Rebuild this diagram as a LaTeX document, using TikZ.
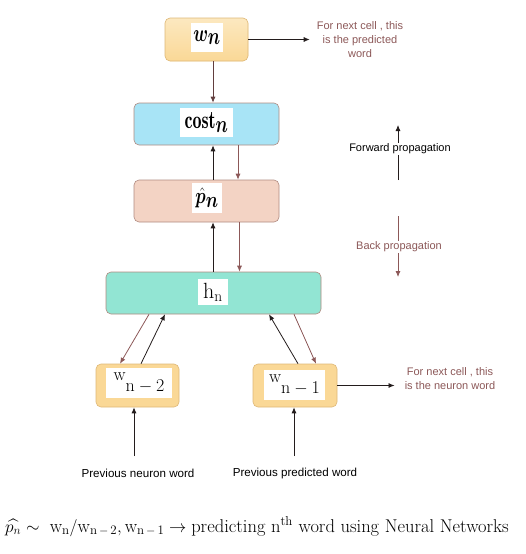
\documentclass[tikz,border=0pt]{standalone}
\usepackage{amsmath}
\usepackage{amssymb,bm}
\usepackage{graphicx}
\usepackage{fontspec}
\newfontfamily\notefont{Liberation Sans}
\usepackage{tikz}
\usetikzlibrary{arrows.meta}
\definecolor{wordfill}{RGB}{250,216,150}
\definecolor{wordtop}{RGB}{252,232,192}
\definecolor{costfill}{RGB}{168,228,246}
\definecolor{probfill}{RGB}{243,211,196}
\definecolor{hidfill}{RGB}{146,229,211}
\definecolor{boxline}{RGB}{176,138,128}
\definecolor{wordline}{RGB}{222,184,120}
\definecolor{backcol}{RGB}{140,88,88}
\definecolor{fwdcol}{RGB}{35,28,28}
\newcommand{\notesize}{\fontsize{11}{14}\selectfont}
\newcommand{\cellsize}{\fontsize{18}{20}\selectfont}
\newcommand{\wordsize}{\fontsize{18}{20}\selectfont}
\newcommand{\tall}[1]{\scalebox{1}[1.4]{#1}}
\tikzset{
  cell/.style={draw=boxline, line width=0.6pt, rounded corners=5pt, inner sep=0pt},
  wordcell/.style={cell, draw=wordline, fill=wordfill, minimum width=83pt, minimum height=43pt},
  tag/.style={fill=white, inner sep=0pt},
  note/.style={font=\notefont\notesize, align=center, inner sep=2pt},
  fwd/.style={-{Latex[length=6pt,width=5pt]}, line width=0.8pt, fwdcol},
  bwd/.style={-{Latex[length=6pt,width=5pt]}, line width=0.8pt, backcol},
}
\begin{document}
\begin{tikzpicture}[x=1pt,y=-1pt]
	\useasboundingbox (0,0) rectangle (525,554);
	% Cells:
	\node[wordcell, top color=wordtop, bottom color=wordfill] (wn) at (206.5,39.5) {};
	\node[cell, fill=costfill, minimum width=145pt, minimum height=42pt] (cost) at (206.5,124) {};
	\node[cell, fill=probfill, minimum width=145pt, minimum height=42pt] (phat) at (206.5,201) {};
	\node[cell, fill=hidfill, minimum width=215pt, minimum height=42pt] (hn) at (213.5,293) {};
	\node[wordcell] (wtwo) at (137.5,385.5) {};
	\node[wordcell, minimum width=84pt] (wone) at (295,385.5) {};
	% Labels:
	\node[tag, minimum width=32pt, minimum height=29pt] (wnlab) at (207,37.5) {\cellsize\tall{$\bm{w}_{\textstyle\bm n}$}};
	\node[tag, minimum width=53pt, minimum height=29pt] (costlab) at (206.5,122.5) {\cellsize\tall{$\mathbf{cost}_{\textstyle\bm n}$}};
	\node[tag, minimum width=30pt, minimum height=30pt] (phatlab) at (207,198) {\cellsize\scalebox{1}[1.3]{$\hat{\bm p}_{\textstyle\bm n}$}};
	\node[tag, minimum width=30pt, minimum height=26pt] (hnlab) at (213,292) {\fontsize{22}{24}\selectfont$\mathrm{h_n}$};
	\node[tag, minimum width=66pt, minimum height=30pt] (wtwolab) at (139,383) {\wordsize\raisebox{5pt}{$\mathrm{w}$}\raisebox{-6pt}{$\mathrm{n-2}$}};
	\node[tag, minimum width=61pt, minimum height=30pt] (wonelab) at (294.5,385) {\wordsize\raisebox{5pt}{$\mathrm{w}$}\raisebox{-6pt}{$\mathrm{n-1}$}};
	% Notes:
	\node[note, text=backcol] (nextword) at (360,40) {For next cell , this\\is the predicted\\word};
	\node[note, text=backcol] (nextneuron) at (450,379) {For next cell , this\\is the neuron word};
	\node[note, font=\notefont\fontsize{11.6}{14}\selectfont] (prevn) at (138,473) {Previous neuron word};
	\node[note, font=\notefont\fontsize{11.6}{14}\selectfont] (prevp) at (295,473) {Previous predicted word};
	% Arrows between cells:
	\draw[bwd, backcol!70!black] ([xshift=6.5pt]wn.south) -- ([xshift=6.5pt]cost.north);
	\draw[fwd] ([xshift=6.5pt]phat.north) -- ([xshift=6.5pt]cost.south);
	\draw[bwd] ([xshift=31.5pt]cost.south) -- ([xshift=31.5pt]phat.north);
	\draw[fwd] ([xshift=-0.5pt]hn.north) -- ([xshift=6.5pt]phat.south);
	\draw[bwd] ([xshift=33pt]phat.south) -- ([xshift=26pt]hn.north);
	\draw[bwd] ([xshift=-64.5pt]hn.south) -- ([xshift=-17.5pt]wtwo.north);
	\draw[fwd] ([xshift=3.5pt]wtwo.north) -- ([xshift=-48.5pt]hn.south);
	\draw[fwd] ([xshift=3pt]wone.north) -- ([xshift=55.5pt]hn.south);
	\draw[bwd] ([xshift=80.5pt]hn.south) -- ([xshift=21pt]wone.north);
	% Arrows out to the notes:
	\draw[fwd, shorten >=5pt] (wn.east) -- (wn.east -| nextword.west);
	\draw[fwd, shorten >=8pt] (wone.east) -- (wone.east -| nextneuron.west);
	% Inputs:
	\coordinate (inn) at (134,456);
	\coordinate (inp) at (294,456);
	\draw[fwd] (inn) -- ([xshift=-3.5pt]wtwo.south);
	\draw[fwd] (inp) -- ([xshift=-1pt]wone.south);
	% Propagation:
	\coordinate (fwdlo) at (398,180);
	\coordinate (fwdhi) at (398,125);
	\draw[fwd] (fwdlo) -- (fwdhi);
	\node[note, fill=white, inner sep=1pt] (fwdlab) at (400,149) {Forward propagation};
	\coordinate (bwdhi) at (398,216);
	\coordinate (bwdlo) at (398,277);
	\draw[bwd] (bwdhi) -- (bwdlo);
	\node[note, fill=white, inner sep=1pt, text=backcol] (bwdlab) at (399,247) {Back propagation};
	% Formula:
	\node[anchor=base west, inner sep=0pt] (formula) at (5,532) {\fontsize{18.5}{21}\selectfont$\widehat{p_n}\sim\ \mathrm{w_n/w_{n\,-\,2}, w_{n\,-\,1}}\rightarrow\;$predicting $\mathrm{n^{th}}$ word using Neural Networks};
\end{tikzpicture}
\end{document}
